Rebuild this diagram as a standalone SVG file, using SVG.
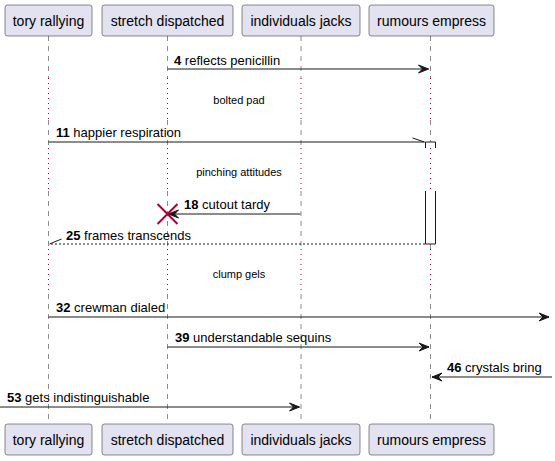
<svg xmlns="http://www.w3.org/2000/svg" width="555" height="461" viewBox="0 0 555 461">
<style>
.box{fill:#E2E2F0;stroke:#181818;stroke-width:0.5}
.pt{font-family:"Liberation Sans",Arial,sans-serif;font-size:14px;fill:#000;text-anchor:middle}
.life{stroke:#181818;stroke-width:0.5;stroke-dasharray:5,5;fill:none}
.dly{stroke:#A80036;stroke-width:1;stroke-dasharray:1,4;fill:none}
.msg{stroke:#181818;stroke-width:1;fill:none}
.dash{stroke:#181818;stroke-width:1;stroke-dasharray:2,2;fill:none}
.head{fill:#181818;stroke:#181818;stroke-width:1}
.lbl{font-family:"Liberation Sans",Arial,sans-serif;font-size:13px;fill:#000}
.num{font-weight:bold}
.dt{font-family:"Liberation Sans",Arial,sans-serif;font-size:11px;fill:#000;text-anchor:middle}
.act{fill:#FFFFFF;stroke:#181818;stroke-width:1}
</style>
<g id="lifelines">
<path class="life" d="M48.5,36 V78 M48.5,120 V148 M48.5,191 V249 M48.5,294 V424"/>
<path class="life" d="M167.5,36 V78 M167.5,120 V148 M167.5,191 V249 M167.5,294 V424"/>
<path class="life" d="M301,36 V78 M301,120 V148 M301,191 V249 M301,294 V424"/>
<path class="life" d="M430.5,36 V78 M430.5,120 V142 M430.5,244 V249 M430.5,294 V424"/>
<path class="dly" d="M48.5,78 V120 M167.5,78 V120 M301,78 V120 M430.5,78 V120"/>
<path class="dly" d="M48.5,148 V191 M167.5,148 V191 M301,148 V191 M430.5,148 V191"/>
<path class="dly" d="M48.5,249 V294 M167.5,249 V294 M301,249 V294 M430.5,249 V294"/>
</g>
<g id="activation">
<path class="act" d="M425.5,191 V244 H435.5 V191"/>
<path class="act" d="M425.5,148 V142 H435.5 V148" fill="none"/>
</g>
<g id="p1"><rect class="box" x="5" y="5" width="87" height="31" rx="2.5"/><text class="pt" x="48.5" y="25.5">tory rallying</text></g>
<g id="p2"><rect class="box" x="102" y="5" width="131" height="31" rx="2.5"/><text class="pt" x="167.5" y="25.5">stretch dispatched</text></g>
<g id="p3"><rect class="box" x="242" y="5" width="118" height="31" rx="2.5"/><text class="pt" x="301" y="25.5">individuals jacks</text></g>
<g id="p4"><rect class="box" x="369" y="5" width="125" height="31" rx="2.5"/><text class="pt" x="431.5" y="25.5">rumours empress</text></g>
<g id="p1b"><rect class="box" x="5" y="424" width="87" height="31" rx="2.5"/><text class="pt" x="48.5" y="444.5">tory rallying</text></g>
<g id="p2b"><rect class="box" x="102" y="424" width="131" height="31" rx="2.5"/><text class="pt" x="167.5" y="444.5">stretch dispatched</text></g>
<g id="p3b"><rect class="box" x="242" y="424" width="118" height="31" rx="2.5"/><text class="pt" x="301" y="444.5">individuals jacks</text></g>
<g id="p4b"><rect class="box" x="369" y="424" width="125" height="31" rx="2.5"/><text class="pt" x="431.5" y="444.5">rumours empress</text></g>
<g id="delays">
<text class="dt" x="239" y="104">bolted pad</text>
<text class="dt" x="239" y="176">pinching attitudes</text>
<text class="dt" x="239" y="278">clump gels</text>
</g>
<g id="connectors">
<path class="msg" d="M167.5,69 H428.5"/>
<polygon class="head" points="418.5,65 428.5,69 418.5,73 422.5,69"/>
<text class="lbl" x="174" y="65"><tspan class="num">4</tspan> reflects penicillin</text>

<path class="msg" d="M48.5,142 H424.5 M412.5,138 L424.5,142"/>
<text class="lbl" x="56" y="137"><tspan class="num">11</tspan> happier respiration</text>

<path class="msg" d="M300.5,214 H168.5"/>
<polygon class="head" points="178.5,210 168.5,214 178.5,218 174.5,214"/>
<path d="M157.5,204 L177.5,224 M177.5,204 L157.5,224" stroke="#A80036" stroke-width="2" fill="none"/>
<text class="lbl" x="184" y="209"><tspan class="num">18</tspan> cutout tardy</text>

<path class="dash" d="M425,244 H49.5"/>
<path class="msg" d="M49.5,244 L61.5,239"/>
<text class="lbl" x="66" y="240"><tspan class="num">25</tspan> frames transcends</text>

<path class="msg" d="M48.5,317 H549"/>
<polygon class="head" points="539,313 549,317 539,321 543,317"/>
<text class="lbl" x="56" y="312"><tspan class="num">32</tspan> crewman dialed</text>

<path class="msg" d="M167.5,347 H429"/>
<polygon class="head" points="419,343 429,347 419,351 423,347"/>
<text class="lbl" x="175" y="342"><tspan class="num">39</tspan> understandable sequins</text>

<path class="msg" d="M552,377 H432"/>
<polygon class="head" points="442,373 432,377 442,381 438,377"/>
<text class="lbl" x="447" y="372"><tspan class="num">46</tspan> crystals bring</text>

<path class="msg" d="M0,407 H299.5"/>
<polygon class="head" points="289.5,403 299.5,407 289.5,411 293.5,407"/>
<text class="lbl" x="7" y="402"><tspan class="num">53</tspan> gets indistinguishable</text>
</g>
</svg>
